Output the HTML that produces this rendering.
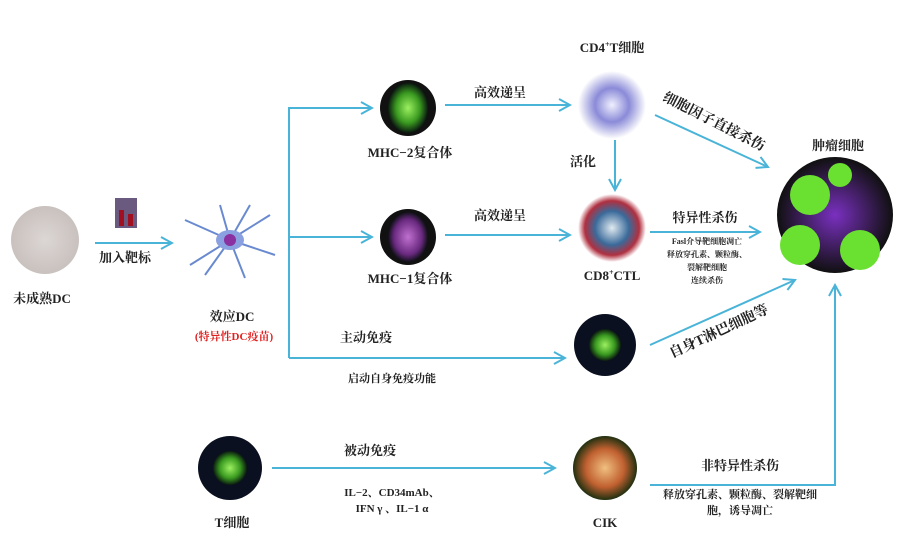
<!DOCTYPE html><html><head><meta charset="utf-8"><style>body{margin:0;background:#fff}svg{display:block}text{font-family:"Liberation Serif","Noto Serif CJK SC",serif;font-weight:bold;fill:#222}</style></head><body>
<svg width="900" height="540" viewBox="0 0 900 540">
<defs>
<marker id="a" markerWidth="14" markerHeight="14" refX="12" refY="7" orient="auto" markerUnits="userSpaceOnUse"><path d="M1,1 L12,7 L1,13" fill="none" stroke="#4ab4d8" stroke-width="2"/></marker>
<radialGradient id="g1"><stop offset="0" stop-color="#dcd6d4"/><stop offset="1" stop-color="#c9c1be"/></radialGradient>
<radialGradient id="gg"><stop offset="0" stop-color="#9cf060"/><stop offset=".6" stop-color="#3a9a20"/><stop offset="1" stop-color="#0a1a10"/></radialGradient>
<radialGradient id="gp"><stop offset="0" stop-color="#c070d0"/><stop offset=".7" stop-color="#6a2a80"/><stop offset="1" stop-color="#101018"/></radialGradient>
<radialGradient id="gb"><stop offset="0" stop-color="#f0f0ff"/><stop offset=".5" stop-color="#8a8ad8"/><stop offset="1" stop-color="#fff"/></radialGradient>
<radialGradient id="gc"><stop offset="0" stop-color="#e0eaf0"/><stop offset=".5" stop-color="#3a6a9a"/><stop offset=".8" stop-color="#b03040"/><stop offset="1" stop-color="#fff"/></radialGradient>
<radialGradient id="gk"><stop offset="0" stop-color="#f0c080"/><stop offset=".6" stop-color="#c06030"/><stop offset="1" stop-color="#203010"/></radialGradient>
<radialGradient id="gt"><stop offset="0" stop-color="#7a30c0"/><stop offset="1" stop-color="#101010"/></radialGradient>
</defs>
<g stroke="#4ab4d8" stroke-width="2" fill="none">
<path d="M95,243 H172" marker-end="url(#a)"/>
<path d="M289,358 V108 H372" marker-end="url(#a)"/>
<path d="M289,237 H372" marker-end="url(#a)"/>
<path d="M289,358 H565" marker-end="url(#a)"/>
<path d="M445,105 H570" marker-end="url(#a)"/>
<path d="M445,235 H570" marker-end="url(#a)"/>
<path d="M615,140 V190" marker-end="url(#a)"/>
<path d="M655,115 L768,167" marker-end="url(#a)"/>
<path d="M650,232 H760" marker-end="url(#a)"/>
<path d="M650,345 L795,280" marker-end="url(#a)"/>
<path d="M272,468 H555" marker-end="url(#a)"/>
<path d="M650,485 H835 V285" marker-end="url(#a)"/>
</g>
<circle cx="45" cy="240" r="34" fill="url(#g1)"/>
<rect x="115" y="198" width="22" height="30" fill="#6a5a80"/><rect x="119" y="210" width="5" height="16" fill="#a01020"/><rect x="128" y="214" width="5" height="12" fill="#a01020"/>
<g stroke="#6a8ad0" stroke-width="2"><path d="M230,240 l-45,-20 M230,240 l40,-25 M230,240 l-40,25 M230,240 l45,15 M230,240 l-10,-35 M230,240 l15,38 M230,240 l-25,35 M230,240 l20,-35"/></g>
<ellipse cx="230" cy="240" rx="14" ry="10" fill="#8aa0e0"/><circle cx="230" cy="240" r="6" fill="#8a30a0"/>
<circle cx="408" cy="108" r="28" fill="#111"/><ellipse cx="408" cy="108" rx="20" ry="25" fill="url(#gg)"/>
<circle cx="408" cy="237" r="28" fill="#111"/><ellipse cx="408" cy="237" rx="20" ry="25" fill="url(#gp)"/>
<circle cx="612" cy="105" r="34" fill="url(#gb)"/>
<circle cx="612" cy="228" r="34" fill="url(#gc)"/>
<circle cx="605" cy="345" r="31" fill="#0a1020"/><circle cx="605" cy="345" r="16" fill="url(#gg)"/>
<circle cx="230" cy="468" r="32" fill="#0a1020"/><circle cx="230" cy="468" r="17" fill="url(#gg)"/>
<circle cx="605" cy="468" r="32" fill="url(#gk)"/>
<circle cx="835" cy="215" r="58" fill="url(#gt)"/>
<circle cx="810" cy="195" r="20" fill="#6ae030"/><circle cx="800" cy="245" r="20" fill="#6ae030"/><circle cx="860" cy="250" r="20" fill="#6ae030"/><circle cx="840" cy="175" r="12" fill="#6ae030"/>
<g font-size="13" text-anchor="middle">
<text x="42" y="303">未成熟DC</text>
<text x="125" y="262">加入靶标</text>
<text x="232" y="321">效应DC</text>
<text x="234" y="340" font-size="11" style="fill:#e02020">(特异性DC疫苗)</text>
<text x="410" y="157">MHC−2复合体</text>
<text x="410" y="283">MHC−1复合体</text>
<text x="612" y="52">CD4<tspan font-size="8" dy="-5">+</tspan><tspan dy="5">T细胞</tspan></text>
<text x="612" y="280">CD8<tspan font-size="8" dy="-5">+</tspan><tspan dy="5">CTL</tspan></text>
<text x="500" y="97">高效递呈</text>
<text x="500" y="220">高效递呈</text>
<text x="583" y="166">活化</text>
<text x="838" y="150">肿瘤细胞</text>
<text x="705" y="222">特异性杀伤</text>
<text x="366" y="342">主动免疫</text>
<text x="392" y="382" font-size="11">启动自身免疫功能</text>
<text x="370" y="455">被动免疫</text>
<text x="392" y="496" font-size="11">IL−2、CD34mAb、</text>
<text x="392" y="512" font-size="11">IFN γ 、IL−1 α</text>
<text x="232" y="527">T细胞</text>
<text x="605" y="527">CIK</text>
<text x="740" y="470">非特异性杀伤</text>
<text x="740" y="498" font-size="11">释放穿孔素、颗粒酶、裂解靶细</text>
<text x="740" y="514" font-size="11">胞，诱导凋亡</text>
<g font-size="8"><text x="707" y="244">Fasl介导靶细胞凋亡</text><text x="707" y="257">释放穿孔素、颗粒酶、</text><text x="707" y="270">裂解靶细胞</text><text x="707" y="283">连续杀伤</text></g>
</g>
<text x="662" y="100" font-size="14" transform="rotate(27 662 100)">细胞因子直接杀伤</text>
<text x="672" y="358" font-size="14" transform="rotate(-25 672 358)">自身T淋巴细胞等</text>
</svg></body></html>
